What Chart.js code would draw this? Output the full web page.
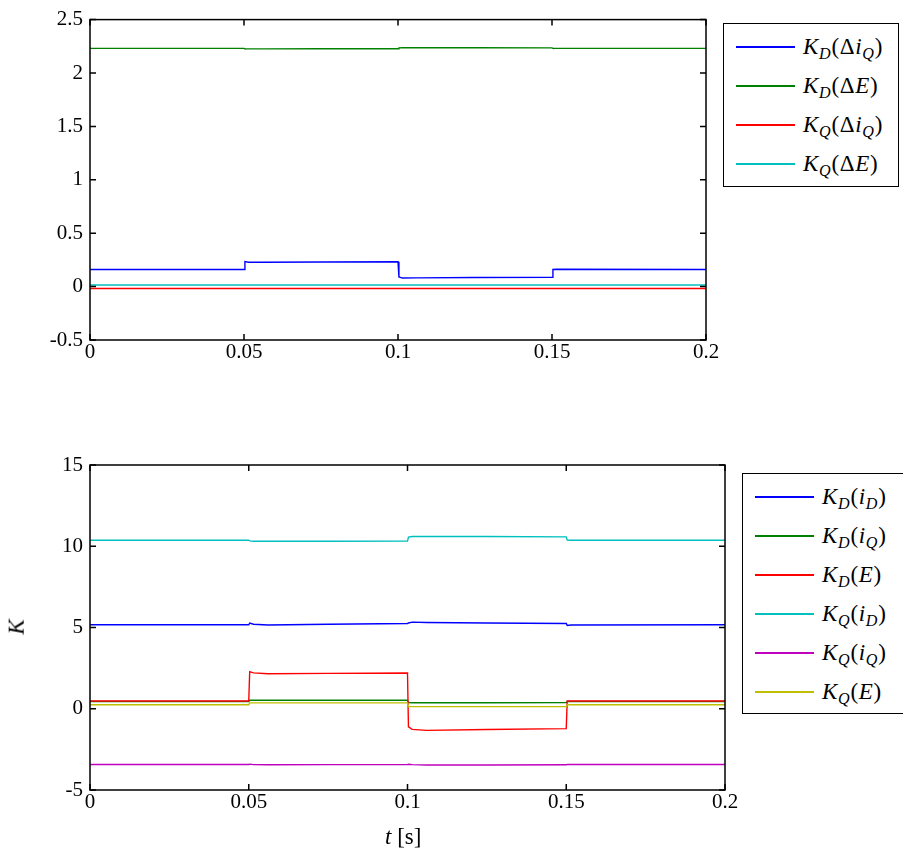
<!DOCTYPE html>
<html lang="en">
<head>
<meta charset="UTF-8">
<title>K gains</title>
<script src="https://cdn.jsdelivr.net/npm/chart.js"></script>
<style>
    body {
        margin: 0;
        background: #ffffff;
        font-family: "Liberation Serif", "Times New Roman", "DejaVu Serif", serif;
        color: #000;
    }
    .page {
        position: relative;
        width: 903px;
        height: 854px;
        overflow: hidden;
    }
    canvas {
        position: absolute;
        left: 0;
    }
    /* legend boxes drawn beside each axes */
    .legend {
        position: absolute;
        border: 1.5px solid #000;
        background: #fff;
        box-sizing: border-box;
    }
    .legend .row {
        position: absolute;
        height: 30px;
        line-height: 30px;
        font-size: 23px;
        white-space: nowrap;
    }
    .legend .swatch {
        position: absolute;
        top: 14px;
        height: 1.5px;
        width: 59px;
    }
    .legend .txt {
        position: absolute;
        left: 67px;
        top: 0;
        letter-spacing: 0.7px;
    }
    sub {
        font-size: 0.7em;
        vertical-align: -0.3em;
        line-height: 0;
    }
    .axis-title {
        position: absolute;
        font-size: 23px;
        white-space: nowrap;
    }
</style>
</head>
<body>
<div class="page">
    <canvas id="topChart" width="903" height="420" style="top:0"></canvas>
    <canvas id="bottomChart" width="903" height="434" style="top:420px"></canvas>

    <div class="legend" id="topLegend" style="left:723px; top:23px; width:176px; height:164px;"></div>
    <div class="legend" id="bottomLegend" style="left:742px; top:473px; width:170px; height:241px;"></div>

    <div class="axis-title" style="left:9px; top:614px; transform: rotate(-90deg);"><i>K</i></div>
    <div class="axis-title" style="left:385px; top:824px;"><i>t</i> [s]</div>
</div>

<script>
    // time samples (s), shared by every trace; steps at 0.05, 0.1 and 0.15
    const t = [0, 0.05, 0.0503, 0.0515, 0.056, 0.075, 0.1, 0.1003, 0.1015, 0.106, 0.125, 0.15, 0.1503, 0.1515, 0.2];

    // upper axes: sensitivities to the disturbance deltas
    const kdDiq = [0.16, 0.16, 0.235, 0.228, 0.228, 0.23, 0.232, 0.09, 0.08, 0.082, 0.085, 0.086, 0.16, 0.162, 0.16];
    const kdDe  = [2.231, 2.231, 2.226, 2.226, 2.226, 2.227, 2.227, 2.235, 2.236, 2.236, 2.236, 2.235, 2.231, 2.231, 2.231];
    const kqDiq = [-0.018, -0.018, -0.018, -0.018, -0.018, -0.018, -0.018, -0.018, -0.018, -0.018, -0.018, -0.018, -0.018, -0.018, -0.018];
    const kqDe  = [0.015, 0.015, 0.015, 0.015, 0.015, 0.015, 0.015, 0.015, 0.015, 0.015, 0.015, 0.015, 0.015, 0.015, 0.015];

    // lower axes: gains on the states
    const kdId = [5.17, 5.17, 5.27, 5.2, 5.15, 5.2, 5.25, 5.28, 5.33, 5.31, 5.28, 5.25, 5.13, 5.15, 5.17];
    const kdIq = [0.45, 0.45, 0.52, 0.52, 0.52, 0.52, 0.52, 0.38, 0.37, 0.37, 0.37, 0.38, 0.45, 0.45, 0.45];
    const kdE  = [0.48, 0.48, 2.28, 2.21, 2.15, 2.18, 2.2, -1.12, -1.27, -1.33, -1.28, -1.22, 0.48, 0.48, 0.48];
    const kqId = [10.37, 10.37, 10.33, 10.31, 10.31, 10.31, 10.32, 10.56, 10.6, 10.6, 10.6, 10.58, 10.38, 10.37, 10.37];
    const kqIq = [-3.43, -3.43, -3.41, -3.44, -3.45, -3.44, -3.43, -3.42, -3.44, -3.46, -3.46, -3.45, -3.43, -3.43, -3.43];
    const kqE  = [0.25, 0.25, 0.36, 0.36, 0.36, 0.36, 0.36, 0.14, 0.13, 0.13, 0.13, 0.14, 0.25, 0.25, 0.25];

    // tick values and their labels
    const xTicks = [0, 0.05, 0.1, 0.15, 0.2];
    const xTickLabels = ['0', '0.05', '0.1', '0.15', '0.2'];
    const yTicksTop = [-0.5, 0, 0.5, 1, 1.5, 2, 2.5];
    const yTickLabelsTop = ['-0.5', '0', '0.5', '1', '1.5', '2', '2.5'];
    const yTicksBottom = [-5, 0, 5, 10, 15];
    const yTickLabelsBottom = ['-5', '0', '5', '10', '15'];

    const tickFont = { family: '"Liberation Serif", "Times New Roman", "DejaVu Serif", serif', size: 21 };

    const topSeries = [
        { label: 'K<sub>D</sub>(Δ<i>i</i><sub><i>Q</i></sub>)', values: kdDiq, color: '#0000ff' },
        { label: 'K<sub>D</sub>(Δ<i>E</i>)', values: kdDe, color: '#008000' },
        { label: 'K<sub>Q</sub>(Δ<i>i</i><sub><i>Q</i></sub>)', values: kqDiq, color: '#ff0000' },
        { label: 'K<sub>Q</sub>(Δ<i>E</i>)', values: kqDe, color: '#00bfbf' }
    ];
    const bottomSeries = [
        { label: 'K<sub>D</sub>(<i>i</i><sub><i>D</i></sub>)', values: kdId, color: '#0000ff' },
        { label: 'K<sub>D</sub>(<i>i</i><sub><i>Q</i></sub>)', values: kdIq, color: '#008000' },
        { label: 'K<sub>D</sub>(<i>E</i>)', values: kdE, color: '#ff0000' },
        { label: 'K<sub>Q</sub>(<i>i</i><sub><i>D</i></sub>)', values: kqId, color: '#00bfbf' },
        { label: 'K<sub>Q</sub>(<i>i</i><sub><i>Q</i></sub>)', values: kqIq, color: '#bf00bf' },
        { label: 'K<sub>Q</sub>(<i>E</i>)', values: kqE, color: '#bfbf00' }
    ];

    // box around the plot area with short inward ticks on all four sides
    const boxTicks = {
        id: 'boxTicks',
        afterDraw(chart) {
            const ctx = chart.ctx;
            const a = chart.chartArea;
            const len = 6;
            ctx.save();
            ctx.strokeStyle = '#000';
            ctx.lineWidth = 1.5;
            ctx.beginPath();
            chart.scales.x.ticks.forEach(tk => {
                const px = chart.scales.x.getPixelForValue(tk.value);
                ctx.moveTo(px, a.bottom); ctx.lineTo(px, a.bottom - len);
                ctx.moveTo(px, a.top); ctx.lineTo(px, a.top + len);
            });
            chart.scales.y.ticks.forEach(tk => {
                const py = chart.scales.y.getPixelForValue(tk.value);
                ctx.moveTo(a.left, py); ctx.lineTo(a.left + len, py);
                ctx.moveTo(a.right, py); ctx.lineTo(a.right - len, py);
            });
            ctx.stroke();
            ctx.strokeRect(a.left, a.top, a.right - a.left, a.bottom - a.top);
            ctx.restore();
        }
    };

    function makeChart(id, series, opts) {
        const ctx = document.getElementById(id).getContext('2d');
        return new Chart(ctx, {
            type: 'line',
            data: {
                datasets: series.map((s, i) => ({
                    data: t.map((tv, k) => ({ x: tv, y: s.values[k] })),
                    borderColor: s.color,
                    borderWidth: 1.4,
                    pointRadius: 0,
                    tension: 0,
                    fill: false,
                    order: series.length - i // later traces on top
                }))
            },
            options: {
                responsive: false,
                animation: false,
                devicePixelRatio: 1,
                layout: { padding: { left: 0, top: opts.top, right: opts.right, bottom: 0 } },
                plugins: { legend: { display: false }, tooltip: { enabled: false } },
                scales: {
                    x: {
                        type: 'linear',
                        min: 0,
                        max: 0.2,
                        grid: { display: false, drawTicks: false },
                        border: { display: false },
                        afterBuildTicks: scale => { scale.ticks = xTicks.map(v => ({ value: v })); },
                        afterFit: scale => { scale.height = opts.xHeight; },
                        ticks: {
                            autoSkip: false,
                            maxRotation: 0,
                            padding: 0,
                            color: '#000',
                            font: tickFont,
                            callback: (v, i) => xTickLabels[i]
                        }
                    },
                    y: {
                        type: 'linear',
                        min: opts.yMin,
                        max: opts.yMax,
                        grid: { display: false, drawTicks: false },
                        border: { display: false },
                        afterBuildTicks: scale => { scale.ticks = opts.yTicks.map(v => ({ value: v })); },
                        afterFit: scale => { scale.width = 90; },
                        ticks: {
                            autoSkip: false,
                            padding: 7,
                            color: '#000',
                            font: tickFont,
                            callback: (v, i) => opts.yLabels[i]
                        }
                    }
                }
            },
            plugins: [boxTicks]
        });
    }

    function buildLegend(id, series, rowTop) {
        const box = document.getElementById(id);
        series.forEach((s, i) => {
            const row = document.createElement('div');
            row.className = 'row';
            row.style.left = '12px';
            row.style.top = (rowTop + i * 39) + 'px';
            row.innerHTML = '<span class="swatch" style="background:' + s.color + '"></span>' +
                '<span class="txt"><i>' + s.label.replace('K<sub>', 'K</i><sub><i>').replace('</sub>(', '</i></sub>(') + '</span>';
            box.appendChild(row);
        });
    }

    makeChart('topChart', topSeries, {
        top: 15, right: 197, xHeight: 80,
        yMin: -0.5, yMax: 2.5, yTicks: yTicksTop, yLabels: yTickLabelsTop
    });
    makeChart('bottomChart', bottomSeries, {
        top: 45, right: 178, xHeight: 64,
        yMin: -5, yMax: 15, yTicks: yTicksBottom, yLabels: yTickLabelsBottom
    });

    buildLegend('topLegend', topSeries, 8);
    buildLegend('bottomLegend', bottomSeries, 8);
</script>
</body>
</html>
